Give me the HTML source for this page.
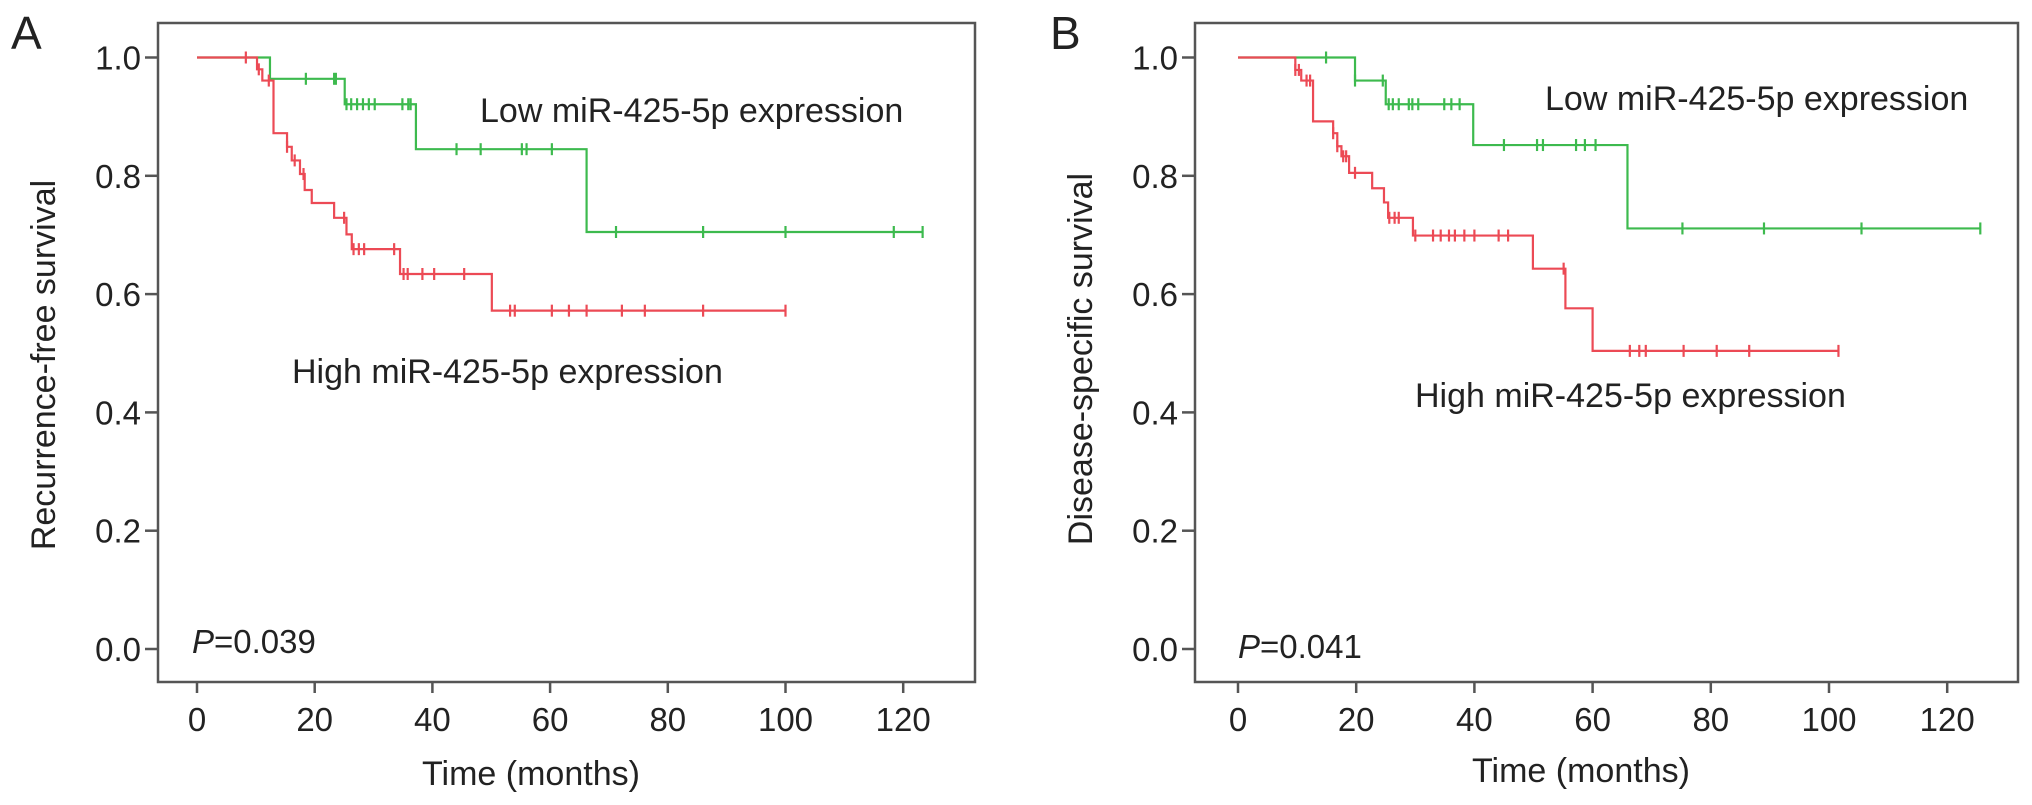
<!DOCTYPE html>
<html><head><meta charset="utf-8"><style>
html,body{margin:0;padding:0;background:#fff;}
svg{display:block;font-family:"Liberation Sans",Arial,sans-serif;}
</style></head><body>
<svg id="fig" width="2032" height="805" viewBox="0 0 2032 805" xmlns="http://www.w3.org/2000/svg"></svg>
<script>
const xTicks = [0,20,40,60,80,100,120];
const yTicks = [0.0,0.2,0.4,0.6,0.8,1.0];
// Panel A - recurrence-free survival
const aLowTimes = [12.4,25.1,37.2,66.2];
const aLowSurv = [0.964,0.921,0.845,0.705];
const aLowCens = [18.5,23.3,23.6,25.4,26.2,27.2,28.2,29.2,30.2,34.9,35.9,36.3,44.1,48.2,55.2,56,60.3,71.2,86,100,118.4,123.3];
const aLowEnd = 123.3;
const aHighTimes = [10.2,11.1,13.0,15.3,16.1,17.5,18.3,19.5,23.3,25.4,26.3,34.5,50.1];
const aHighSurv = [0.98,0.961,0.872,0.849,0.826,0.803,0.776,0.754,0.729,0.701,0.676,0.634,0.572];
const aHighCens = [8.3,10.5,12.2,15.3,16.6,18.1,25.0,26.6,27.5,28.4,33.5,35.1,35.8,38.3,40.3,45.4,53.2,54,60.3,63.2,66.2,72.2,76.1,86,100];
const aHighEnd = 100;
// Panel B - disease-specific survival
const bLowTimes = [19.8,25,39.8,65.9];
const bLowSurv = [0.961,0.921,0.852,0.711];
const bLowCens = [14.9,19.8,24.5,25.5,26.2,27.2,28.9,29.5,30.5,34.9,36.1,37.5,45,50.6,51.6,57.2,58.7,60.5,75.2,89,105.5,125.6];
const bLowEnd = 125.6;
const bHighTimes = [9.7,10.7,12.7,16.1,16.8,17.5,18.8,22.7,24.7,25.4,29.6,49.9,55.4,60];
const bHighSurv = [0.979,0.961,0.892,0.872,0.85,0.833,0.805,0.779,0.755,0.729,0.699,0.643,0.576,0.504];
const bHighCens = [9.7,10.3,11.6,12.2,16.1,16.8,17.8,18.3,19.8,25.6,26.5,27.2,30,33,34.3,35.7,36.7,38.3,40,44.1,45.7,55.1,66.3,67.9,69,75.4,81,86.5,101.6];
const bHighEnd = 101.6;

const NS = "http://www.w3.org/2000/svg";
const svg = document.getElementById('fig');
function mk(tag, attrs, parent){
  const e = document.createElementNS(NS, tag);
  for (const k in attrs) e.setAttribute(k, attrs[k]);
  (parent||svg).appendChild(e);
  return e;
}
function panel(p){
  const g = mk('g', {});
  
  
  const X = t => p.x0 + t * p.pxPerMonth;
  const Y = v => 649 - v * 591.5;
  const box = mk('rect', {x:p.bl, y:23, width:p.br-p.bl, height:682-23, fill:'none', stroke:'#555', 'stroke-width':2.5}, g);
  
  
  xTicks.forEach(t => {
    const l = mk('line', {x1:X(t), x2:X(t), y1:682, y2:693, stroke:'#555', 'stroke-width':2.5}, g);
    
    
    const tx = mk('text', {x:X(t), y:731, 'font-size':33, 'text-anchor':'middle', fill:'#222'}, g);
    
    
    tx.textContent = t;
  });
  yTicks.forEach(v => {
    const l = mk('line', {x1:p.bl-13, x2:p.bl, y1:Y(v), y2:Y(v), stroke:'#555', 'stroke-width':2.5}, g);
    
    
    const tx = mk('text', {x:p.bl-17, y:Y(v)+12, 'font-size':33, 'text-anchor':'end', fill:'#222'}, g);
    
    
    tx.textContent = v.toFixed(1);
  });
  function curve(times, surv, cens, end, color, nm){
    let d = 'M' + X(0) + ',' + Y(1);
    times.forEach((t,i) => { d += ' H' + X(t) + ' V' + Y(surv[i]); });
    d += ' H' + X(end);
    const path = mk('path', {d:d, fill:'none', stroke:color, 'stroke-width':2.2}, g);
    
    
    cens.forEach(c => {
      let s = 1;
      times.forEach((t,i) => { if (c >= t) s = surv[i]; });
      const m = mk('line', {x1:X(c), x2:X(c), y1:Y(s)-6, y2:Y(s)+6, stroke:color, 'stroke-width':2.2}, g);
      
      
    });
  }
  curve(p.lowT, p.lowS, p.lowC, p.lowE, '#3dba4e', 'low-expression');
  curve(p.highT, p.highS, p.highC, p.highE, '#ec4a55', 'high-expression');
}
panel({name:'panel-a', bl:158, br:975, x0:197, pxPerMonth:5.885,
  lowT:aLowTimes, lowS:aLowSurv, lowC:aLowCens, lowE:aLowEnd,
  highT:aHighTimes, highS:aHighSurv, highC:aHighCens, highE:aHighEnd});
panel({name:'panel-b', bl:1195, br:2018, x0:1238, pxPerMonth:5.91,
  lowT:bLowTimes, lowS:bLowSurv, lowC:bLowCens, lowE:bLowEnd,
  highT:bHighTimes, highS:bHighSurv, highC:bHighCens, highE:bHighEnd});
</script>
<script>
(function(){
  const NS = "http://www.w3.org/2000/svg";
  const svg = document.getElementById('fig');
  function t(x,y,txt,size,name,extra){
    const e = document.createElementNS(NS,'text');
    e.setAttribute('x',x); e.setAttribute('y',y);
    e.setAttribute('font-size',size); e.setAttribute('fill','#222');
    if (extra) for (const k in extra) e.setAttribute(k, extra[k]);
    
    
    e.textContent = txt;
    svg.appendChild(e);
    return e;
  }
  t(11,49,'A',46,'panel-a-label');
  t(1050,49,'B',46,'panel-b-label');
  t(531,785,'Time (months)',34,'x-axis-title-a',{'text-anchor':'middle'});
  t(1581,782,'Time (months)',34,'x-axis-title-b',{'text-anchor':'middle'});
  t(0,0,'Recurrence-free survival',34,'y-axis-title-a',{'text-anchor':'middle','transform':'translate(55,365) rotate(-90)'});
  t(0,0,'Disease-specific survival',34,'y-axis-title-b',{'text-anchor':'middle','transform':'translate(1092,359) rotate(-90)'});
  t(480,122,'Low miR-425-5p expression',34,'low-expression-label-a');
  t(292,383,'High miR-425-5p expression',34,'high-expression-label-a');
  t(1545,110,'Low miR-425-5p expression',34,'low-expression-label-b');
  t(1415,407,'High miR-425-5p expression',34,'high-expression-label-b');
  const pa = t(192,653,'',33,'p-value-a');
  pa.innerHTML = '<tspan font-style="italic">P</tspan>=0.039';
  const pb = t(1238,658,'',33,'p-value-b');
  pb.innerHTML = '<tspan font-style="italic">P</tspan>=0.041';
})();
</script>
</body></html>
